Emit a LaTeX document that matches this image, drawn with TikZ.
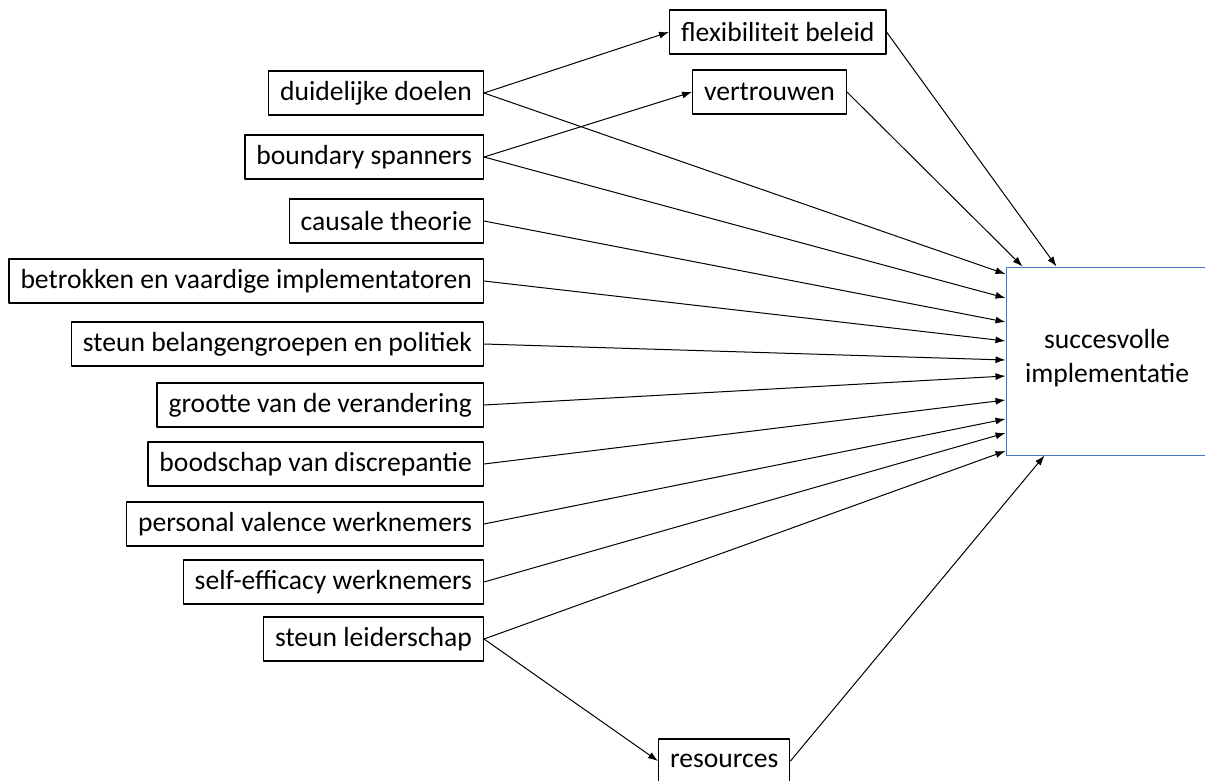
\documentclass[tikz,border=0pt]{standalone}
\usepackage{fontspec}
\setmainfont{Carlito}
\usetikzlibrary{arrows.meta}
\definecolor{outline}{RGB}{68,114,196}
\begin{document}
\begin{tikzpicture}[x=1pt,y=-1pt,line join=round,>={Latex[length=10pt,width=7pt]},
		factor/.style={draw,line width=1.2pt,inner xsep=11.5pt,minimum height=44pt,font=\fontsize{27.6}{32}\selectfont},
		link/.style={->,line width=1pt}]
		\useasboundingbox (0,0) rectangle (1205,780);
		\clip (0,0) rectangle (1205,780);
		% linker kolom
		\node[factor,anchor=east] (doelen) at (484,93) {duidelijke doelen};
		\node[factor,anchor=east] (spanners) at (484,157) {boundary spanners};
		\node[factor,anchor=east] (causaal) at (484,221) {causale theorie};
		\node[factor,anchor=east] (betrokken) at (484,281) {betrokken en vaardige implementatoren};
		\node[factor,anchor=east] (belangen) at (484,344) {steun belangengroepen en politiek};
		\node[factor,anchor=east] (grootte) at (484,405) {grootte van de verandering};
		\node[factor,anchor=east] (boodschap) at (484,464) {boodschap van discrepantie};
		\node[factor,anchor=east] (valence) at (484,524) {personal valence werknemers};
		\node[factor,anchor=east] (efficacy) at (484,582) {self-efficacy werknemers};
		\node[factor,anchor=east] (leiding) at (484,639) {steun leiderschap};
		% tussenstappen
		\node[factor,anchor=west] (flex) at (669,32) {flexibiliteit beleid};
		\node[factor,anchor=west] (vertrouwen) at (692,92) {vertrouwen};
		\node[factor,anchor=west] (middelen) at (658,761) {resources};
		% uitkomst
		\node[draw=outline,line width=1pt,minimum width=254pt,minimum height=188pt] (succes) at (1133,361) {};
		\node[font=\fontsize{27.6}{34}\selectfont,align=center] (succestekst) at (1107,358) {succesvolle\\implementatie};
		\foreach \src/\dy in {doelen/87,spanners/63,causaal/39,betrokken/20,belangen/1,grootte/-15,boodschap/-39,valence/-58,efficacy/-72,leiding/-90}
			\draw[link] (\src.east) -- ([yshift=\dy pt]succes.west);
		\draw[link] (doelen.east) -- (flex.west);
		\draw[link] (spanners.east) -- (vertrouwen.west);
		\draw[link] (leiding.east) -- (middelen.west);
		\draw[link] (vertrouwen.east) -- ([xshift=17pt]succes.north west);
		\draw[link] (flex.east) -- ([xshift=51pt]succes.north west);
		\draw[link] (middelen.east) -- ([xshift=39pt]succes.south west);
	\end{tikzpicture}
\end{document}
